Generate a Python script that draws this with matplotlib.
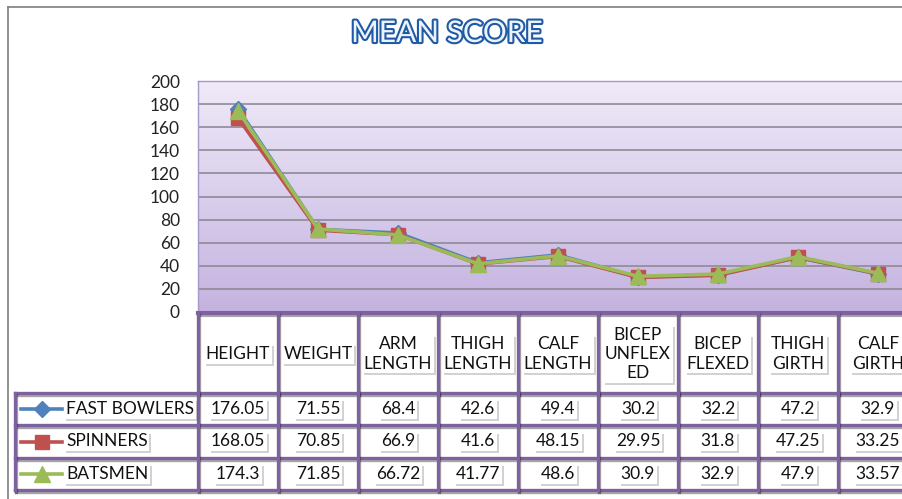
import numpy as np
import matplotlib
matplotlib.use("Agg")
import matplotlib.pyplot as plt
from matplotlib import patheffects
from matplotlib.colors import LinearSegmentedColormap
from matplotlib.lines import Line2D
from matplotlib.transforms import blended_transform_factory

plt.rcParams['font.family'] = ['Lato', 'DejaVu Sans']

# data
categories = ["HEIGHT", "WEIGHT", "ARM\nLENGTH", "THIGH\nLENGTH", "CALF\nLENGTH",
              "BICEP\nUNFLEX\nED", "BICEP\nFLEXED", "THIGH\nGIRTH", "CALF\nGIRTH"]
series_names = ["FAST BOWLERS", "SPINNERS", "BATSMEN"]
fast_bowlers = [176.05, 71.55, 68.4, 42.6, 49.4, 30.2, 32.2, 47.2, 32.9]
spinners = [168.05, 70.85, 66.9, 41.6, 48.15, 29.95, 31.8, 47.25, 33.25]
batsmen = [174.3, 71.85, 66.72, 41.77, 48.6, 30.9, 32.9, 47.9, 33.57]
y_ticks = list(range(0, 201, 20))

series = [fast_bowlers, spinners, batsmen]
colors = ["#4F81BD", "#C0504D", "#9BBB59"]
markers = ["D", "s", "^"]
msizes = [8, 10, 11]

W, H = 903, 499
fig = plt.figure(figsize=(W / 100, H / 100), dpi=100)

# plot area (runs past right edge like the reference)
ax = fig.add_axes([198 / W, (H - 312) / H, 720 / W, 231 / H])
x = np.arange(len(categories))
ax.set_xlim(-0.5, len(categories) - 0.5)
ax.set_ylim(0, 200)

cmap = LinearSegmentedColormap.from_list("bg", ["#EFEAF8", "#C4B3E0"])
ax.imshow(np.linspace(0, 1, 256).reshape(-1, 1), extent=(-0.5, len(categories) - 0.5, 0, 200),
          aspect="auto", cmap=cmap, origin="upper", zorder=0)
for yv in y_ticks[1:]:
    ax.axhline(yv, color="#8E8A96", lw=1.2, zorder=1)

for vals, c, m, ms in zip(series, colors, markers, msizes):
    ax.plot(x, vals, color=c, lw=2.6, marker=m, ms=ms, mec=c, mfc=c, zorder=3)

ax.set_yticks(y_ticks)
ax.set_xticks([])
ax.tick_params(axis="y", length=0, pad=13, labelsize=12.5, labelcolor="#222222")
for s in ["left", "top"]:
    ax.spines[s].set_color("#A898C8")
    ax.spines[s].set_linewidth(1)
ax.spines["right"].set_visible(False)
ax.spines["bottom"].set_visible(False)

# data table under the plot
tc = blended_transform_factory(ax.transData, fig.transFigure)
tcol = "#7E62A0"
shadow = [patheffects.SimpleLineShadow(offset=(1, -1.5), alpha=0.35), patheffects.Normal()]


def fy(py):
    return 1 - py / H


def fx(px):
    return -0.5 + (px - 198) / 80.0


def hline(x0, x1, py, lw=2.4):
    l = Line2D([x0, x1], [fy(py), fy(py)], transform=tc, color=tcol, lw=lw,
               clip_on=False, solid_capstyle="projecting", path_effects=shadow)
    fig.add_artist(l)


def vline(xv, py0, py1):
    l = Line2D([xv, xv], [fy(py0), fy(py1)], transform=tc, color=tcol, lw=2.4,
               clip_on=False, solid_capstyle="projecting", path_effects=shadow)
    fig.add_artist(l)


row_edges = [393, 425, 458, 490]
right = len(categories) - 0.5 + 0.5
hline(-0.5, right, 313, lw=3)
for r in row_edges:
    hline(fx(15), right, r)
for i in range(len(categories) + 1):
    vline(i - 0.5, 313, 393)
    vline(i - 0.5, 393, 490)
vline(fx(15), 393, 490)


def cell_text(xv, py, s, ha="center"):
    t = fig.text(xv, fy(py), s, transform=tc, ha=ha, va="center", fontsize=12.5,
                 color="#111111", linespacing=1.25, multialignment="center",
                 bbox=dict(facecolor="white", edgecolor="none", pad=1.2))
    t.get_bbox_patch().set_path_effects([patheffects.SimplePatchShadow(offset=(1.5, -1.5), alpha=0.25),
                                         patheffects.Normal()])
    return t


for i, cat in enumerate(categories):
    cell_text(i, 354, cat)

for r, (name, vals, c, m, ms) in enumerate(zip(series_names, series, colors, markers, msizes)):
    cy = (row_edges[r] + row_edges[r + 1]) / 2.0
    fig.add_artist(Line2D([fx(21), fx(62)], [fy(cy), fy(cy)], transform=tc, color=c, lw=2.6, clip_on=False))
    fig.add_artist(Line2D([fx(41.5)], [fy(cy)], transform=tc, color=c, marker=m, ms=ms, mfc=c, mec=c,
                          clip_on=False))
    cell_text(fx(66), cy, name, ha="left")
    for i, v in enumerate(vals):
        cell_text(i, cy, "{:g}".format(v))

# chart frame
fig.add_artist(Line2D([8 / W, 1], [fy(7), fy(7)], transform=fig.transFigure, color="#7F7F7F", lw=1.2))
fig.add_artist(Line2D([8 / W, 8 / W], [0, fy(7)], transform=fig.transFigure, color="#7F7F7F", lw=1.2))

# title
fig.text(447 / W, fy(33), "MEAN SCORE", ha="center", va="center", fontsize=21.5,
         color="#EEF3FA",
         path_effects=[patheffects.SimplePatchShadow(offset=(1, -1), alpha=0.3),
                       patheffects.withStroke(linewidth=3, foreground="#1F5AA6")])

fig.savefig("out.png", dpi=100)
